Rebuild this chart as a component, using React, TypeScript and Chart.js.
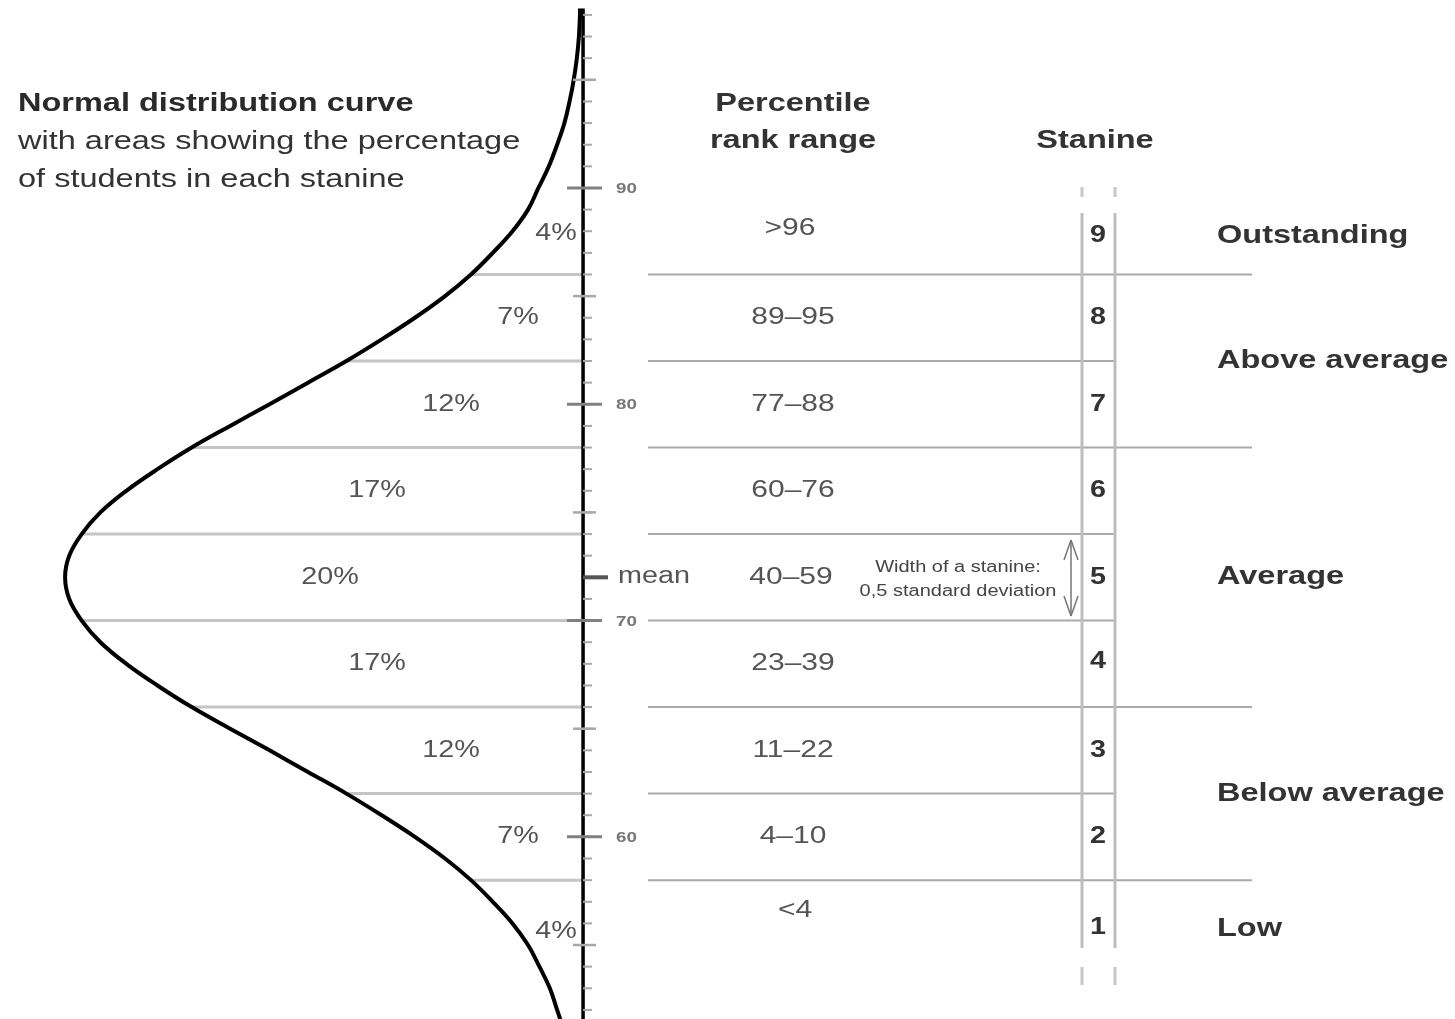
import React, { useEffect, useRef } from "react";
import { Chart, registerables } from "chart.js";
Chart.register(...registerables);

// ---------- data ----------
// normal curve: score (vertical) vs density (% per score point, horizontal)
const curveScores = [51, 52, 53, 54, 55, 56, 57, 58, 59, 60, 61, 62, 63, 64, 65, 66, 67, 68, 69, 70, 71, 72, 73, 74, 75, 76, 77, 78, 79, 80, 81, 82, 83, 84, 85, 86, 87, 88, 89, 90, 91, 92, 93, 94, 95, 96, 97, 98, 98.3];
const curveDensity = [0.18, 0.25, 0.32, 0.42, 0.53, 0.68, 0.87, 1.08, 1.33, 1.62, 1.94, 2.28, 2.65, 3.02, 3.4, 3.77, 4.1, 4.4, 4.65, 4.83, 4.95, 4.99, 4.95, 4.83, 4.65, 4.4, 4.1, 3.77, 3.4, 3.02, 2.65, 2.28, 1.94, 1.62, 1.33, 1.08, 0.87, 0.68, 0.53, 0.43, 0.33, 0.25, 0.18, 0.13, 0.09, 0.06, 0.04, 0.03, 0.03];

// stanine boundaries (score) and the curve density at each
const boundaryScores = [86, 82, 78, 74, 70, 66, 62, 58];
const boundaryDensity = [1.08, 2.28, 3.77, 4.83, 4.83, 3.77, 2.28, 1.08];
const boundaryIsCategory = [true, false, true, false, false, true, false, true];

const stanines = ["9", "8", "7", "6", "5", "4", "3", "2", "1"];
const stanineScores = [87.8, 84, 80, 76, 72, 68.1, 64, 60, 55.8];
const percentLabels = ["4%", "7%", "12%", "17%", "20%", "17%", "12%", "7%", "4%"];
const percentScores = [87.9, 84, 80, 76, 72, 68, 64, 60, 55.6];
const percentileLabels = [">96", "89–95", "77–88", "60–76", "40–59", "23–39", "11–22", "4–10", "<4"];
const percentileScores = [88.15, 84, 80, 76, 72, 68, 64, 60, 56.6];

const categoryLabels = ["Outstanding", "Above average", "Average", "Below average", "Low"];
const categoryScores = [87.8, 82, 72, 62, 55.75];

const axisLabelValues = [90, 80, 70, 60];
const axisLabels = ["90", "80", "70", "60"];
const halfTickValues = [95, 85, 75, 65, 55];
const meanScore = 72;
const axisTop = 98.3;
const axisBottom = 51;

// ---------- layout / style ----------
const W = 1455;
const H = 1019;
const Y_MIN = 51.58;
const Y_MAX = 98.69;
const XD_MIN = -8.4;
const XD_MAX = 5.617;
const FONT = '"Liberation Sans", Arial, Helvetica, sans-serif';
const STRETCH = 1.25;
const AXIS_X = 583;
const RIGHT_LINE_START = 648;
const RIGHT_LINE_SHORT = 1115;
const RIGHT_LINE_LONG = 1252;
const COL_A = 1082;
const COL_B = 1115;

function drawText(ctx: CanvasRenderingContext2D, s: string, x: number, y: number, size: number, weight: string, color: string, align: CanvasTextAlign = "left") {
  ctx.save();
  ctx.font = `${weight} ${size}px ${FONT}`;
  ctx.fillStyle = color;
  ctx.textBaseline = "middle";
  ctx.textAlign = align;
  ctx.translate(x, y);
  ctx.scale(STRETCH, 1);
  ctx.fillText(s, 0, 0);
  ctx.restore();
}

const textPlugin = {
  id: "stanineText",
  afterDatasetsDraw(chart: any) {
    const ctx: CanvasRenderingContext2D = chart.ctx;
    const xs = chart.scales.x;
    const ys = chart.scales.y;
    const X = (v: number) => xs.getPixelForValue(v);
    const Y = (v: number) => ys.getPixelForValue(v);

    // axis ticks
    ctx.save();
    ctx.lineCap = "butt";
    for (let v = 52; v <= 98; v++) {
      ctx.strokeStyle = "#a8a8a8";
      ctx.lineWidth = 2;
      ctx.beginPath();
      ctx.moveTo(X(AXIS_X), Y(v));
      ctx.lineTo(X(AXIS_X + 9), Y(v));
      ctx.stroke();
    }
    halfTickValues.forEach((v) => {
      ctx.strokeStyle = "#a8a8a8";
      ctx.lineWidth = 2.5;
      ctx.beginPath();
      ctx.moveTo(X(AXIS_X - 10), Y(v));
      ctx.lineTo(X(AXIS_X + 13), Y(v));
      ctx.stroke();
    });
    axisLabelValues.forEach((v, i) => {
      ctx.strokeStyle = "#808080";
      ctx.lineWidth = 3;
      ctx.beginPath();
      ctx.moveTo(X(AXIS_X - 16), Y(v));
      ctx.lineTo(X(AXIS_X + 19), Y(v));
      ctx.stroke();
      drawText(ctx, axisLabels[i], X(AXIS_X + 33), Y(v) + 1, 15, "bold", "#777", "left");
    });
    ctx.strokeStyle = "#555";
    ctx.lineWidth = 4;
    ctx.beginPath();
    ctx.moveTo(X(AXIS_X), Y(meanScore));
    ctx.lineTo(X(AXIS_X + 25), Y(meanScore));
    ctx.stroke();
    ctx.restore();
    drawText(ctx, "mean", X(AXIS_X + 35), Y(meanScore) - 1, 23, "normal", "#555", "left");

    // title
    drawText(ctx, "Normal distribution curve", 18, 104, 26, "bold", "#2a2a2a");
    drawText(ctx, "with areas showing the percentage", 18, 142, 26, "normal", "#333");
    drawText(ctx, "of students in each stanine", 18, 180, 26, "normal", "#333");

    // headers
    drawText(ctx, "Percentile", 793, 104, 26, "bold", "#333", "center");
    drawText(ctx, "rank range", 793, 141, 26, "bold", "#333", "center");
    drawText(ctx, "Stanine", 1095, 141, 26, "bold", "#333", "center");

    // percentage labels inside the curve
    const pctX = [556, 518, 451, 377, 330, 377, 451, 518, 556];
    percentLabels.forEach((s, i) => drawText(ctx, s, X(pctX[i]), Y(percentScores[i]), 23, "normal", "#555", "center"));

    // percentile rank ranges
    percentileLabels.forEach((s, i) => {
      const cx = i === 4 ? 791 : i === 0 ? 790 : i === 8 ? 795 : 793;
      drawText(ctx, s, X(cx), Y(percentileScores[i]), 24, "normal", "#555", "center");
    });

    // stanine numbers
    stanines.forEach((s, i) => drawText(ctx, s, X(1098), Y(stanineScores[i]), 23, "bold", "#333", "center"));

    // categories
    categoryLabels.forEach((s, i) => drawText(ctx, s, X(1217), Y(categoryScores[i]), 26, "bold", "#333", "left"));

    // stanine width note
    drawText(ctx, "Width of a stanine:", X(958), Y(72) - 10, 16, "normal", "#444", "center");
    drawText(ctx, "0,5 standard deviation", X(958), Y(72) + 14, 16, "normal", "#444", "center");
  },
};

function seg(axis: string, x1: number, y1: number, x2: number, y2: number, color: string, width: number, order: number) {
  return {
    type: "scatter" as const,
    xAxisID: axis,
    yAxisID: "y",
    data: [{ x: x1, y: y1 }, { x: x2, y: y2 }],
    showLine: true,
    borderColor: color,
    borderWidth: width,
    pointRadius: 0,
    fill: false,
    order,
  };
}

export default function App() {
  const ref = useRef<HTMLCanvasElement | null>(null);

  useEffect(() => {
    if (!ref.current) return;
    const datasets: any[] = [];

    // curve
    datasets.push({
      type: "scatter",
      xAxisID: "xd",
      yAxisID: "y",
      data: curveScores.map((s, i) => ({ x: curveDensity[i], y: s })),
      showLine: true,
      borderColor: "#000",
      borderWidth: 4,
      tension: 0.4,
      pointRadius: 0,
      fill: false,
      order: 0,
    });
    // axis line
    datasets.push(seg("xd", 0, axisTop, 0, axisBottom, "#000", 3.5, 1));

    // boundary lines
    boundaryScores.forEach((s, i) => {
      datasets.push(seg("xd", boundaryDensity[i], s, 0, s, "#c4c4c4", 3, 5));
      datasets.push(seg("x", RIGHT_LINE_START, s, boundaryIsCategory[i] ? RIGHT_LINE_LONG : RIGHT_LINE_SHORT, s, "#aaaaaa", 2, 5));
    });

    // stanine column lines (solid + dashes)
    const pxToScore = (px: number) => Y_MAX - (px / H) * (Y_MAX - Y_MIN);
    [COL_A, COL_B].forEach((cx) => {
      datasets.push(seg("x", cx, pxToScore(213), cx, pxToScore(948), "#bdbdbd", 3, 4));
      datasets.push(seg("x", cx, pxToScore(187), cx, pxToScore(197), "#c8c8c8", 3, 4));
      datasets.push(seg("x", cx, pxToScore(967), cx, pxToScore(985), "#c8c8c8", 3, 4));
    });

    // double arrow (width of a stanine)
    const aTop = pxToScore(540);
    const aBot = pxToScore(616);
    const head = 20 * (Y_MAX - Y_MIN) / H;
    datasets.push(seg("x", 1071, aTop, 1071, aBot, "#777", 1.5, 3));
    datasets.push(seg("x", 1071, aTop, 1064, aTop - head, "#777", 1.5, 3));
    datasets.push(seg("x", 1071, aTop, 1078, aTop - head, "#777", 1.5, 3));
    datasets.push(seg("x", 1071, aBot, 1064, aBot + head, "#777", 1.5, 3));
    datasets.push(seg("x", 1071, aBot, 1078, aBot + head, "#777", 1.5, 3));

    const chart = new Chart(ref.current, {
      type: "scatter",
      data: { datasets },
      options: {
        responsive: false,
        animation: false,
        devicePixelRatio: 1,
        layout: { padding: 0 },
        plugins: { legend: { display: false }, tooltip: { enabled: false } },
        scales: {
          x: { type: "linear", position: "bottom", min: 0, max: W, display: false },
          xd: { type: "linear", axis: "x", position: "bottom", min: XD_MIN, max: XD_MAX, reverse: true, display: false },
          y: { type: "linear", min: Y_MIN, max: Y_MAX, display: false },
        },
      } as any,
      plugins: [textPlugin],
    });
    return () => chart.destroy();
  }, []);

  return (
    <div style={{ position: "absolute", left: 0, top: 0, width: W, height: H, background: "#fff" }}>
      <canvas ref={ref} width={W} height={H} style={{ width: W, height: H, display: "block" }} />
    </div>
  );
}
